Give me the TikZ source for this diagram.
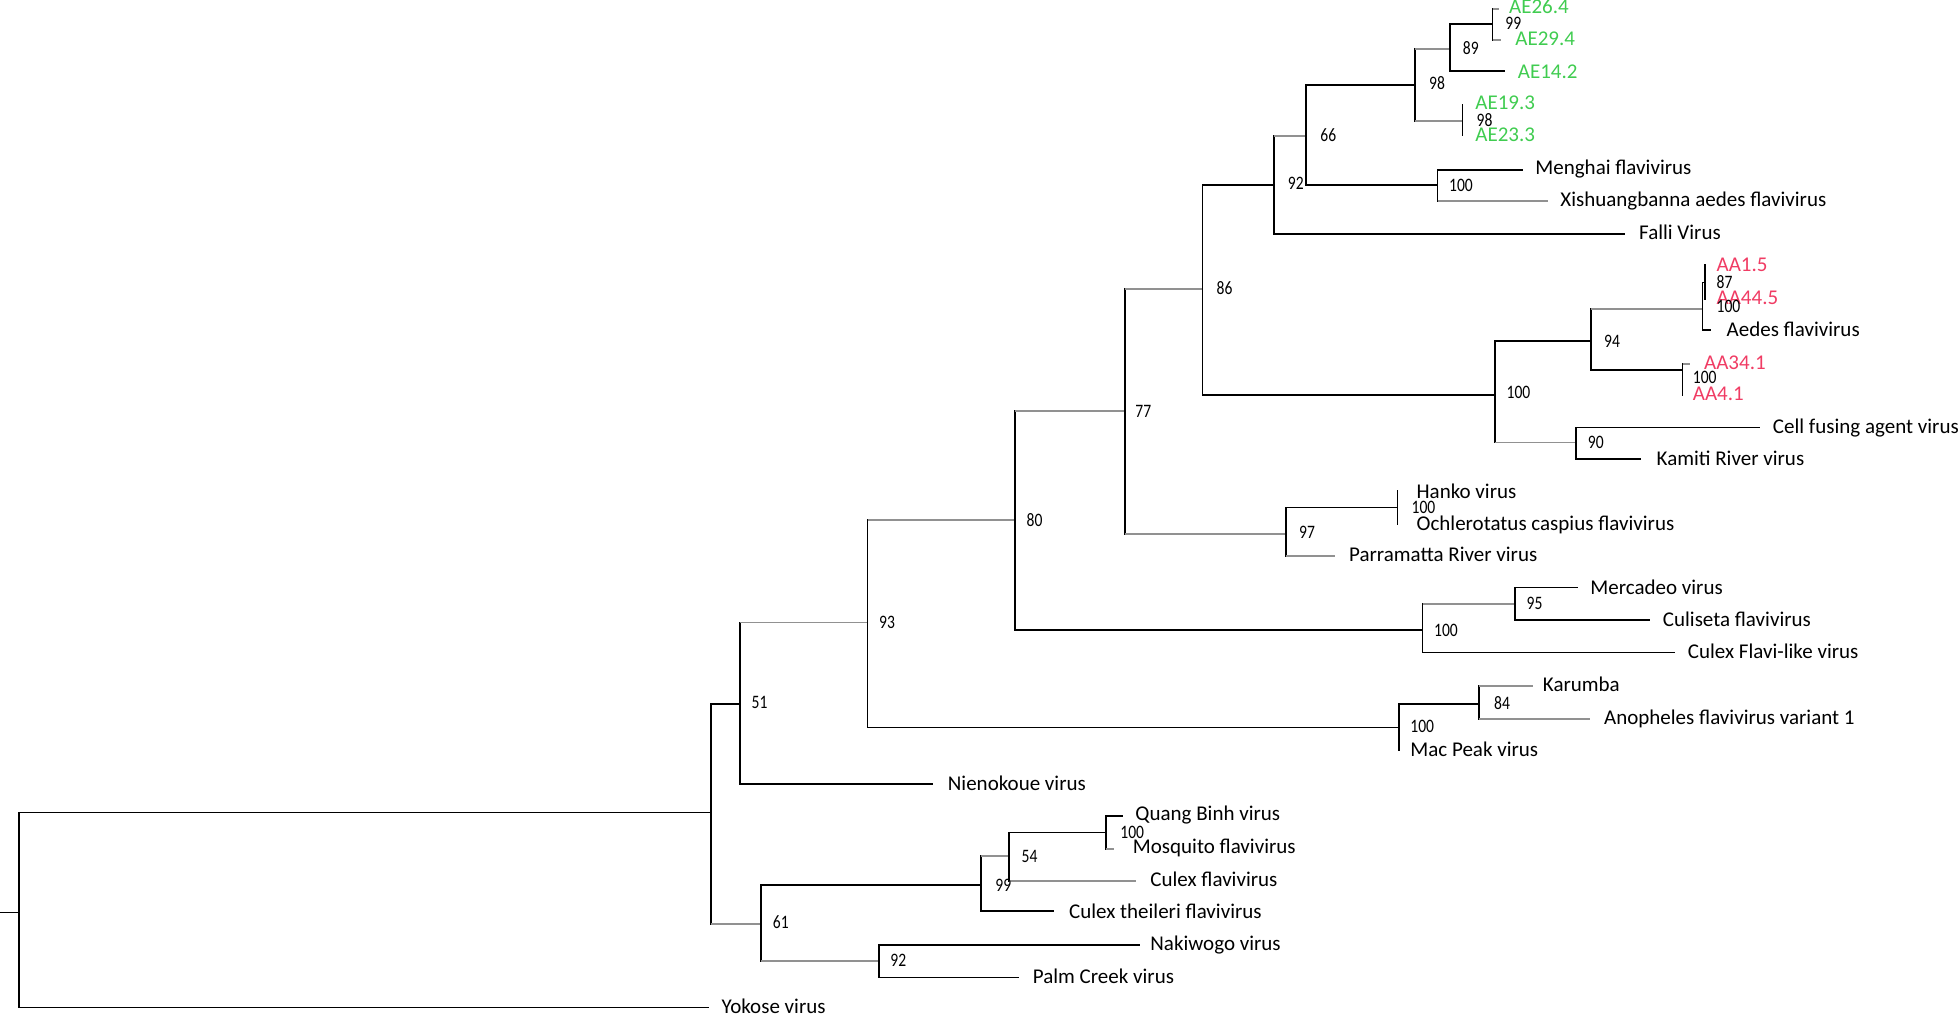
\documentclass[tikz,border=0pt]{standalone}
\usepackage{fontspec}
\setmainfont{Carlito}
\usepackage{graphicx}
\definecolor{aegreen}{RGB}{64,204,80}
\definecolor{aared}{RGB}{240,60,100}
\definecolor{brgray}{RGB}{145,145,145}
\tikzset{
 vl/.style={draw=black, line width=0.95pt, line cap=rect},
 bl/.style={draw=black, line width=0.95pt},
 gl/.style={draw=brgray, line width=0.95pt},
 lab/.style={anchor=west, inner sep=0pt, text height=6.8pt, text depth=0pt, font=\fontsize{10.5}{12}\selectfont},
 bsv/.style={anchor=west, inner sep=0pt, text height=6pt, text depth=0pt, font=\fontsize{9.5}{11}\selectfont},
}
\newcommand\brn[3]{\draw[vl] (#1) -- (#1 |- #2); \draw[#3] (#1 |- #2) -- (#2);}
\newcommand\bsn[3]{\node[bsv] (#1) at (#2) {\scalebox{0.82}[1]{#3}};}
\begin{document}
\begin{tikzpicture}[x=0.625pt, y=-0.625pt]
\useasboundingbox (0,0) rectangle (1568,814);
% internal nodes and tips
\coordinate (stub) at (0,730);
\coordinate (R) at (15,730);
\coordinate (N1) at (569,650);
\coordinate (tYok) at (567,806);
\coordinate (N51) at (592,563);
\coordinate (N61) at (609,739);
\coordinate (tNie) at (746,627);
\coordinate (N93) at (694,498);
\coordinate (N100mp) at (1119,582);
\coordinate (N80) at (812,416);
\coordinate (N100mc) at (1138,504);
\coordinate (N77) at (900,329);
\coordinate (N86) at (962,231);
\coordinate (N97) at (1029,427);
\coordinate (N92) at (1019,148);
\coordinate (N100a) at (1196,316);
\coordinate (N66) at (1045,109);
\coordinate (tFal) at (1300,187);
\coordinate (N98a) at (1132,68);
\coordinate (N100m) at (1150,148);
\coordinate (N89) at (1160,39);
\coordinate (N98b) at (1170,97);
\coordinate (N99) at (1194,19);
\coordinate (tAE14) at (1204,57);
\coordinate (tAE26) at (1199,7);
\coordinate (tAE29) at (1201,32);
\coordinate (tAE19) at (1170,84);
\coordinate (tAE23) at (1170,108);
\coordinate (tMen) at (1218,136);
\coordinate (tXis) at (1238,161);
\coordinate (N94) at (1273,273);
\coordinate (N90) at (1261,354);
\coordinate (N100aa) at (1362,247);
\coordinate (N100ab) at (1346,296);
\coordinate (N87) at (1364,226);
\coordinate (tAed) at (1369,264);
\coordinate (tAA1) at (1364,212);
\coordinate (tAA44) at (1364,239);
\coordinate (tAA34) at (1352,291);
\coordinate (tAA4) at (1346,316);
\coordinate (tCFA) at (1408,342);
\coordinate (tKam) at (1313,367);
\coordinate (N100h) at (1118,406);
\coordinate (tPar) at (1068,445);
\coordinate (tHan) at (1118,393);
\coordinate (tOch) at (1118,419);
\coordinate (N95) at (1212,483);
\coordinate (tCFL) at (1340,522);
\coordinate (tMer) at (1262,470);
\coordinate (tCul) at (1320,496);
\coordinate (N84) at (1183,563);
\coordinate (tMac) at (1119,600);
\coordinate (tKar) at (1226,549);
\coordinate (tAno) at (1272,575);
\coordinate (N99c) at (785,708);
\coordinate (N92c) at (703,769);
\coordinate (N54) at (807,685);
\coordinate (tCth) at (843,729);
\coordinate (N100q) at (885,666);
\coordinate (tCfl) at (909,705);
\coordinate (tQB) at (898,653);
\coordinate (tMos) at (891,679);
\coordinate (tNak) at (912,756);
\coordinate (tPal) at (815,782);
% branches
\draw[bl] (stub) -- (R);
\brn{R}{N1}{bl} \brn{R}{tYok}{bl}
\brn{N1}{N51}{bl} \brn{N1}{N61}{gl}
\brn{N51}{N93}{gl} \brn{N51}{tNie}{bl}
\brn{N93}{N80}{gl} \brn{N93}{N100mp}{bl}
\brn{N80}{N77}{gl} \brn{N80}{N100mc}{bl}
\brn{N77}{N86}{gl} \brn{N77}{N97}{gl}
\brn{N86}{N92}{bl} \brn{N86}{N100a}{bl}
\brn{N92}{N66}{gl} \brn{N92}{tFal}{bl}
\brn{N66}{N98a}{bl} \brn{N66}{N100m}{bl}
\brn{N98a}{N89}{gl} \brn{N98a}{N98b}{gl}
\brn{N89}{N99}{bl} \brn{N89}{tAE14}{bl}
\brn{N99}{tAE26}{gl} \brn{N99}{tAE29}{gl}
\brn{N98b}{tAE19}{gl} \brn{N98b}{tAE23}{gl}
\brn{N100m}{tMen}{bl} \brn{N100m}{tXis}{gl}
\brn{N100a}{N94}{bl} \brn{N100a}{N90}{gl}
\brn{N94}{N100aa}{gl} \brn{N94}{N100ab}{bl}
\brn{N100aa}{N87}{bl} \brn{N100aa}{tAed}{bl}
\brn{N87}{tAA1}{bl} \brn{N87}{tAA44}{bl}
\brn{N100ab}{tAA34}{gl} \brn{N100ab}{tAA4}{bl}
\brn{N90}{tCFA}{bl} \brn{N90}{tKam}{bl}
\brn{N97}{N100h}{bl} \brn{N97}{tPar}{gl}
\brn{N100h}{tHan}{bl} \brn{N100h}{tOch}{bl}
\brn{N100mc}{N95}{gl} \brn{N100mc}{tCFL}{bl}
\brn{N95}{tMer}{bl} \brn{N95}{tCul}{bl}
\brn{N100mp}{N84}{bl} \brn{N100mp}{tMac}{bl}
\brn{N84}{tKar}{gl} \brn{N84}{tAno}{gl}
\brn{N61}{N99c}{bl} \brn{N61}{N92c}{gl}
\brn{N99c}{N54}{gl} \brn{N99c}{tCth}{bl}
\brn{N54}{N100q}{bl} \brn{N54}{tCfl}{gl}
\brn{N100q}{tQB}{bl} \brn{N100q}{tMos}{gl}
\brn{N92c}{tNak}{bl} \brn{N92c}{tPal}{bl}
% tip labels
\node[lab] (LYok) at (577,805) {Yokose virus};
\node[lab] (LNie) at (758,627) {Nienokoue virus};
\node[lab] (LQB) at (908,651) {Quang Binh virus};
\node[lab] (LMos) at (906,677) {Mosquito flavivirus};
\node[lab] (LCfl) at (920,704) {Culex flavivirus};
\node[lab] (LCth) at (855,729) {Culex theileri flavivirus};
\node[lab] (LNak) at (920,755) {Nakiwogo virus};
\node[lab] (LPal) at (826,781) {Palm Creek virus};
\node[lab] (LMac) at (1128,600) {Mac Peak virus};
\node[lab] (LKar) at (1234,548) {Karumba};
\node[lab] (LAno) at (1283,574) {Anopheles flavivirus variant 1};
\node[lab] (LCFL) at (1350,521) {Culex Flavi-like virus};
\node[lab] (LCul) at (1330,496) {Culiseta flavivirus};
\node[lab] (LMer) at (1272,470) {Mercadeo virus};
\node[lab] (LPar) at (1079,444) {Parramatta River virus};
\node[lab] (LHan) at (1133,393) {Hanko virus};
\node[lab] (LOch) at (1133,419) {Ochlerotatus caspius flavivirus};
\node[lab] (LKam) at (1325,367) {Kamiti River virus};
\node[lab] (LCFA) at (1418,341) {Cell fusing agent virus};
\node[lab] (LAed) at (1381,264) {Aedes flavivirus};
\node[lab, text=aared] (LAA1) at (1373,212) {AA1.5};
\node[lab, text=aared] (LAA44) at (1373,238) {AA44.5};
\node[lab, text=aared] (LAA34) at (1363,290) {AA34.1};
\node[lab, text=aared] (LAA4) at (1354,315) {AA4.1};
\node[lab] (LFal) at (1311,186) {Falli Virus};
\node[lab] (LXis) at (1248,160) {Xishuangbanna aedes flavivirus};
\node[lab] (LMen) at (1228,134) {Menghai flavivirus};
\node[lab, text=aegreen] (LAE26) at (1207,5) {AE26.4};
\node[lab, text=aegreen] (LAE29) at (1212,31) {AE29.4};
\node[lab, text=aegreen] (LAE14) at (1214,57) {AE14.2};
\node[lab, text=aegreen] (LAE19) at (1180,82) {AE19.3};
\node[lab, text=aegreen] (LAE23) at (1180,108) {AE23.3};
% bootstrap values
\bsn{b51}{601,562}{51}
\bsn{b61}{618,738}{61}
\bsn{b93}{703,498}{93}
\bsn{b80}{821,416}{80}
\bsn{b77}{908,329}{77}
\bsn{b86}{973,231}{86}
\bsn{b92}{1030,147}{92}
\bsn{b66}{1056,108}{66}
\bsn{b98a}{1143,67}{98}
\bsn{b89}{1170,39}{89}
\bsn{b99}{1204,19}{99}
\bsn{b98b}{1181,96}{98}
\bsn{b100m}{1159,148}{100}
\bsn{b100a}{1205,314}{100}
\bsn{b94}{1283,273}{94}
\bsn{b87}{1373,226}{87}
\bsn{b100aa}{1373,245}{100}
\bsn{b100ab}{1354,302}{100}
\bsn{b90}{1270,354}{90}
\bsn{b97}{1039,426}{97}
\bsn{b100h}{1129,406}{100}
\bsn{b95}{1221,483}{95}
\bsn{b100mc}{1147,504}{100}
\bsn{b84}{1195,563}{84}
\bsn{b100mp}{1128,581}{100}
\bsn{b54}{817,685}{54}
\bsn{b99c}{796,708}{99}
\bsn{b100q}{896,666}{100}
\bsn{b92c}{712,768}{92}
\end{tikzpicture}
\end{document}
